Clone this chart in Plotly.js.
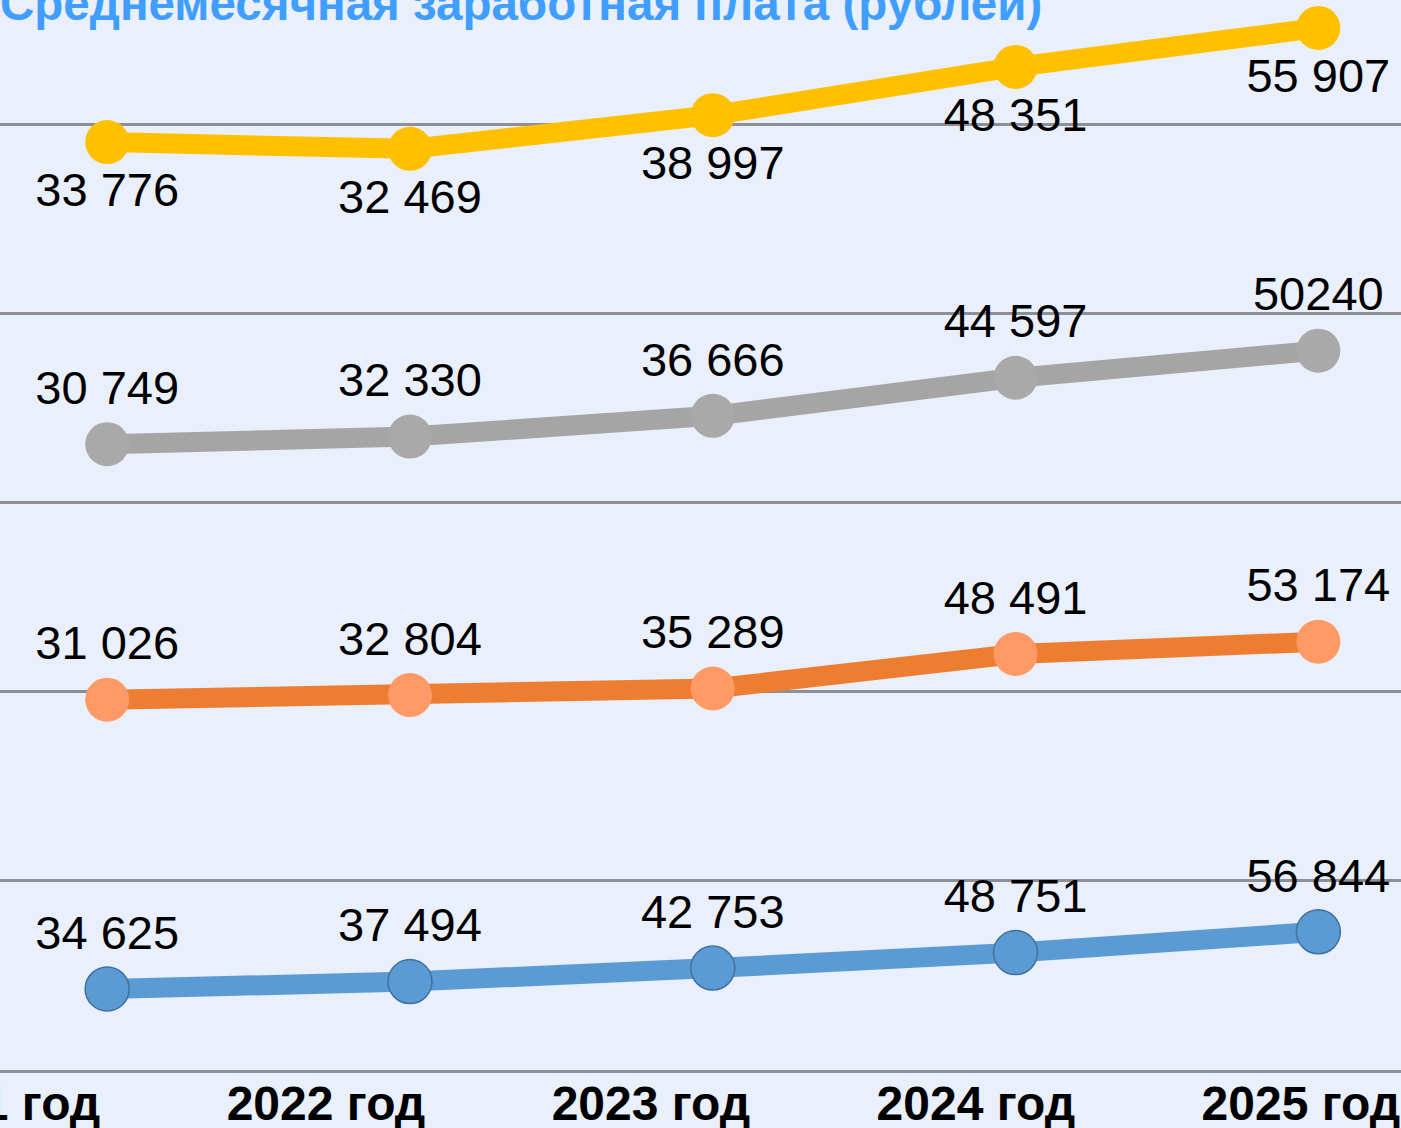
<!DOCTYPE html>
<html>
<head>
<meta charset="utf-8">
<script src="https://cdn.plot.ly/plotly-3.0.1.min.js"></script>
<style>
html,body{margin:0;padding:0;background:#E9EFFB;}
#chart{width:1401px;height:1128px;}
</style>
</head>
<body>
<div id="chart"></div>
<script>
const years = ['2021 год', '2022 год', '2023 год', '2024 год', '2025 год'];
const tickIdx = [0, 1, 2, 3, 4];

const yellowVals = [33776, 32469, 38997, 48351, 55907];
const yellowLabels = ['33 776', '32 469', '38 997', '48 351', '55 907'];

const grayVals = [30749, 32330, 36666, 44597, 50240];
const grayLabels = ['30 749', '32 330', '36 666', '44 597', '50240'];

const orangeVals = [31026, 32804, 35289, 48491, 53174];
const orangeLabels = ['31 026', '32 804', '35 289', '48 491', '53 174'];

const blueVals = [34625, 37494, 42753, 48751, 56844];
const blueLabels = ['34 625', '37 494', '42 753', '48 751', '56 844'];

const FONT = 'Liberation Sans, Arial, sans-serif';

function series(vals, labels, yaxis, lineColor, markerColor, outline, pos) {
  return {
    type: 'scatter', mode: 'lines+markers+text',
    x: years, y: vals, text: labels,
    xaxis: 'x', yaxis: yaxis,
    textposition: pos,
    textfont: {family: FONT, size: 47, color: '#000000'},
    line: {color: lineColor, width: 20},
    marker: {size: 44, color: markerColor, line: {color: outline || markerColor, width: outline ? 1.5 : 0}},
    cliponaxis: false, showlegend: false, hoverinfo: 'skip'
  };
}

const data = [
  {type: 'scatter', mode: 'none', x: [], y: [], xaxis: 'x', yaxis: 'y', showlegend: false, hoverinfo: 'skip'},
  {type: 'scatter', mode: 'none', x: [], y: [], xaxis: 'x2', yaxis: 'y', showlegend: false, hoverinfo: 'skip'},
  series(blueVals, blueLabels, 'y5', '#5B9BD5', '#5B9BD5', '#41719C', 'top center'),
  series(orangeVals, orangeLabels, 'y4', '#ED7D31', '#FF9966', null, 'top center'),
  series(grayVals, grayLabels, 'y3', '#A5A5A5', '#A9A9A9', null, 'top center'),
  series(yellowVals, yellowLabels, 'y2', '#FFC000', '#FFC000', null, 'bottom center')
];

const hidden = {visible: false, overlaying: 'y', anchor: 'x', fixedrange: true};

const layout = {
  width: 1401, height: 1128,
  margin: {l: 0, r: 0, t: 0, b: 58, pad: 0},
  paper_bgcolor: '#E9EFFB', plot_bgcolor: '#E9EFFB',
  showlegend: false,
  title: {
    text: 'Среднемесячная заработная плата (рублей)',
    font: {family: FONT, size: 47.5, color: '#3F9EFF', weight: 'bold'},
    xref: 'container', yref: 'container', x: 0, xanchor: 'left',
    y: 0.997, yanchor: 'middle'
  },
  xaxis: {
    type: 'category', range: [-0.354, 4.273], visible: false
  },
  xaxis2: {
    type: 'linear', overlaying: 'x', anchor: 'y', side: 'bottom',
    range: [-0.0031, 4.308],
    tickmode: 'array', tickvals: tickIdx, ticktext: years,
    showgrid: false, zeroline: false,
    showline: true, linecolor: '#8E8E96', linewidth: 3,
    ticks: '', ticklabelstandoff: -11, ticklabeloverflow: 'allow',
    tickfont: {family: FONT, size: 48, color: '#000000', weight: 'bold'}
  },
  yaxis: {
    range: [0, 5.661], dtick: 1, tick0: 0,
    showgrid: true, gridcolor: '#8E8E96', gridwidth: 3,
    zeroline: false, showticklabels: false, ticks: '', showline: false
  },
  yaxis2: Object.assign({range: [-146078, 61322]}, hidden),
  yaxis3: Object.assign({range: [-99669, 123317]}, hidden),
  yaxis4: Object.assign({range: [-110433, 298323]}, hidden),
  yaxis5: Object.assign({range: [3128, 419001]}, hidden)
};

Plotly.newPlot('chart', data, layout, {displayModeBar: false, staticPlot: true});
</script>
</body>
</html>
